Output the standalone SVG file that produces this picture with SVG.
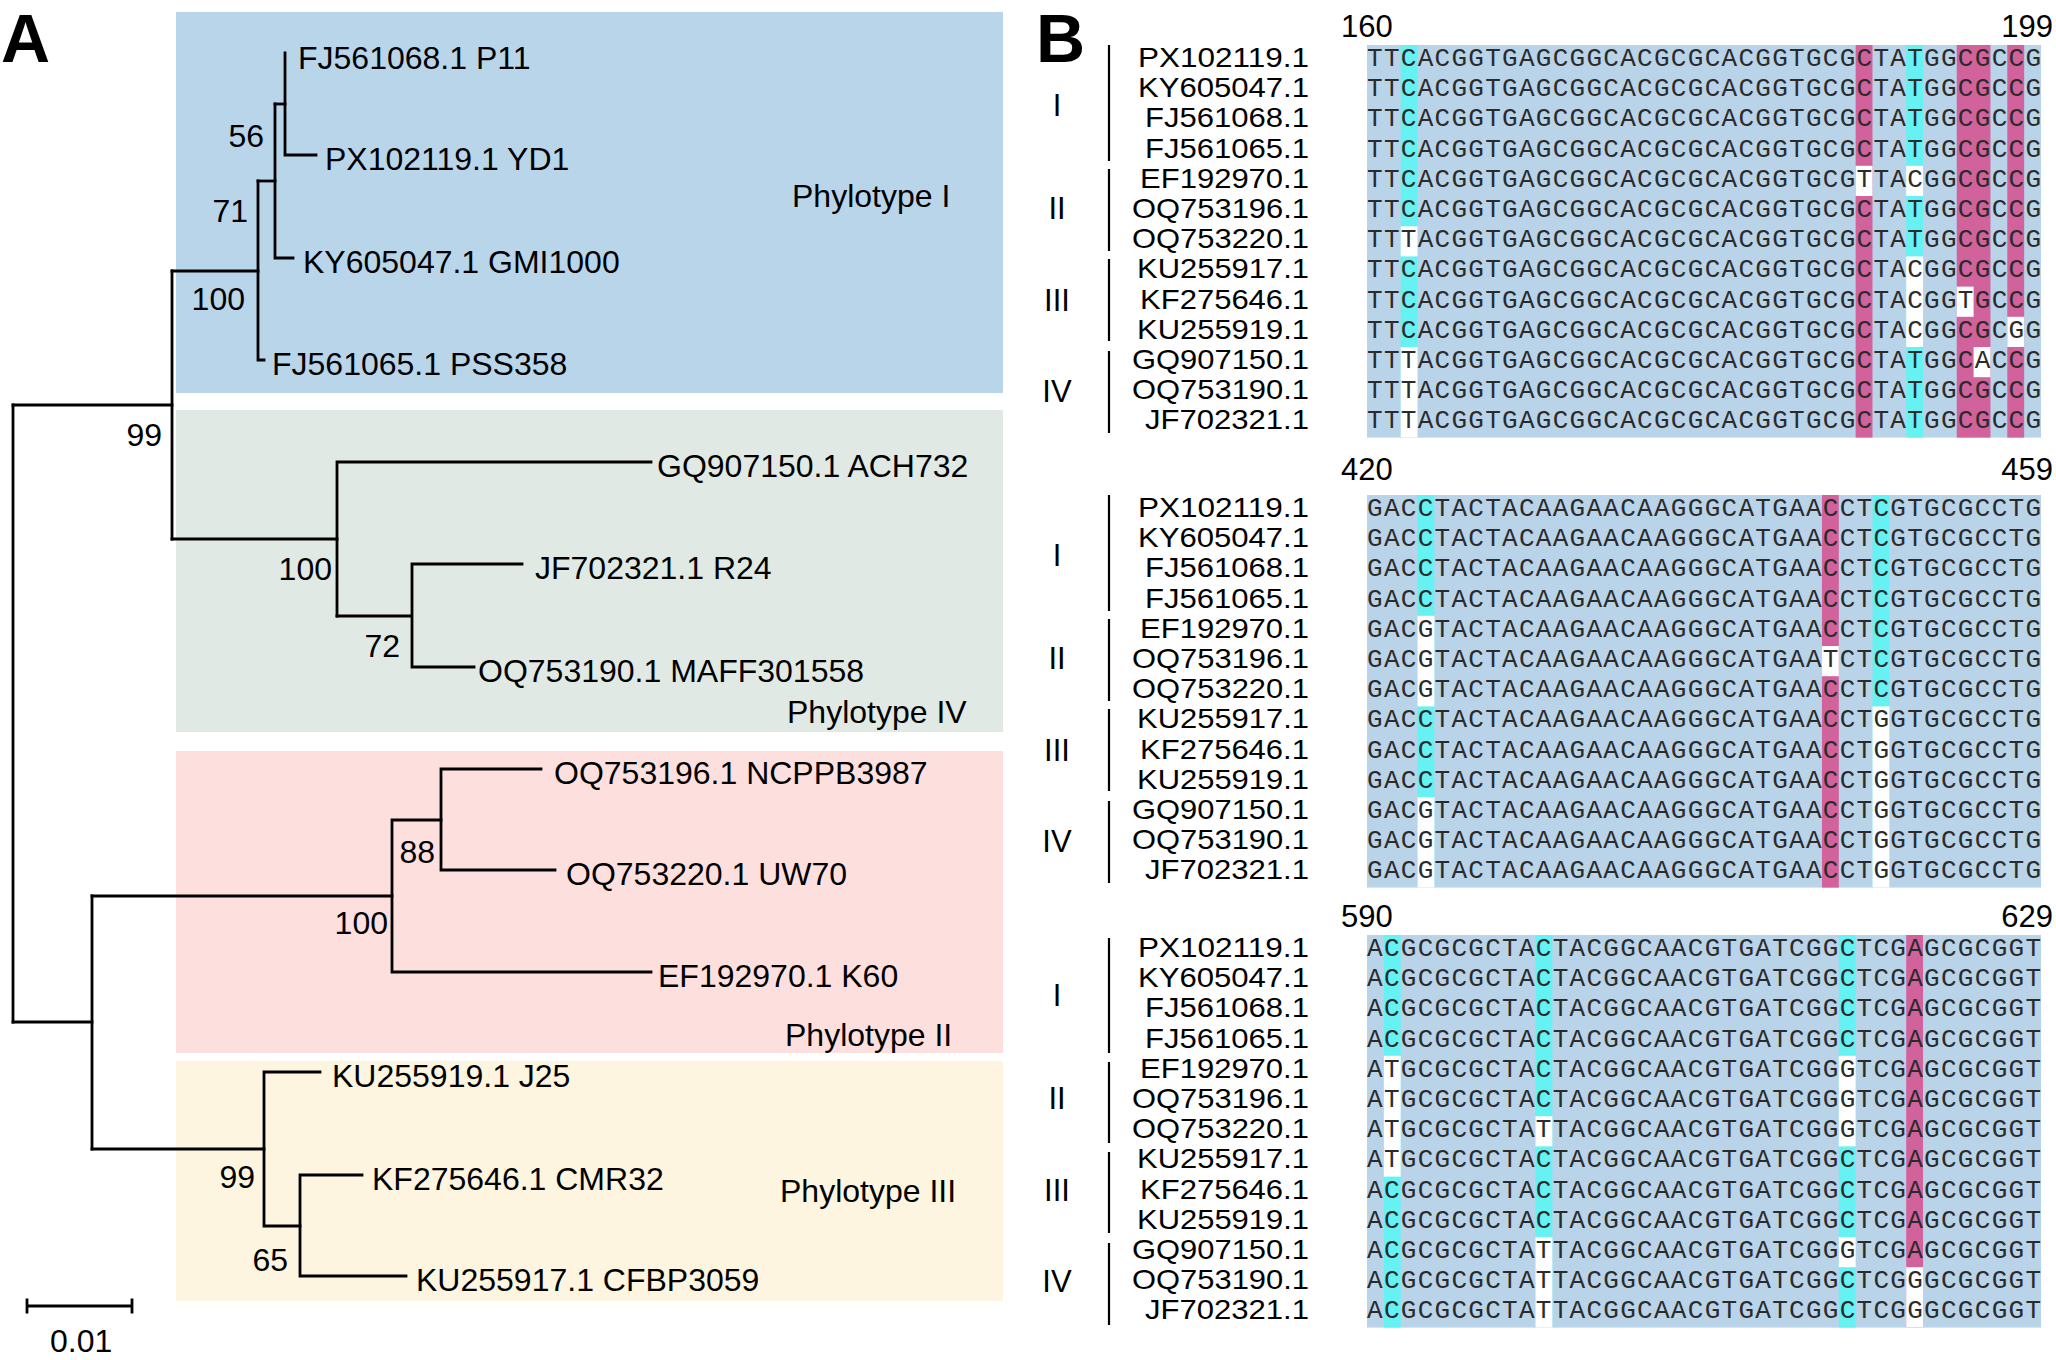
<svg xmlns="http://www.w3.org/2000/svg" width="2056" height="1360" viewBox="0 0 2056 1360">
<style>
text{font-family:"Liberation Sans",Arial,sans-serif;fill:#000}
.pl{font-size:68px;font-weight:bold}
.lf{font-size:32px}
.bs{font-size:32px;text-anchor:end}
.ph{font-size:32px}
.br{fill:none;stroke:#000;stroke-width:2.8;stroke-linecap:square}
.acc{font-size:28px;text-anchor:end}
.grp{font-size:31px;text-anchor:middle}
.num{font-size:31px}
.seq{font-family:"Liberation Mono","Courier New",monospace;font-size:26px;fill:#2b2b2b}
.bar{stroke:#000;stroke-width:2.2}
.bg{fill:#b9d4e9}
.cy{fill:#66f2f2}
.mg{fill:#d2629c}
.wh{fill:#fff}
</style>
<rect width="2056" height="1360" fill="#fff"/>

<!-- Panel A -->
<text class="pl" x="1" y="62">A</text>
<g id="clade-I"><rect x="176" y="12" width="827" height="381" fill="#b9d5ea"/><text class="ph" x="792" y="207">Phylotype I</text></g>
<g id="clade-IV"><rect x="176" y="410" width="827" height="322" fill="#e1e9e4"/><text class="ph" x="787" y="723">Phylotype IV</text></g>
<g id="clade-II"><rect x="176" y="751" width="827" height="302" fill="#fde0de"/><text class="ph" x="785" y="1046">Phylotype II</text></g>
<g id="clade-III"><rect x="176" y="1061" width="827" height="240" fill="#fdf5df"/><text class="ph" x="780" y="1202">Phylotype III</text></g>

<g id="connectors">
<path class="br" d="M285,53 V155 H316"/>
<path class="br" d="M275,104 H285"/>
<path class="br" d="M275,104 V258 H293"/>
<path class="br" d="M258,181 H275"/>
<path class="br" d="M258,181 V360 H264"/>
<path class="br" d="M172,271 H258"/>
<path class="br" d="M337,462 H651 M337,462 V616"/>
<path class="br" d="M337,616 H412 M412,564 V667 M412,564 H522 M412,667 H474"/>
<path class="br" d="M172,539 H337"/>
<path class="br" d="M172,271 V539"/>
<path class="br" d="M13,405 H172"/>
<path class="br" d="M441,769 V870 M441,769 H541 M441,870 H555"/>
<path class="br" d="M392,820 H441 M392,820 V972 H651"/>
<path class="br" d="M92,896 H392"/>
<path class="br" d="M300,1175 V1276 M300,1175 H362 M300,1276 H406"/>
<path class="br" d="M264,1226 H300 M264,1072 V1226 M264,1072 H320"/>
<path class="br" d="M92,1149 H264"/>
<path class="br" d="M92,896 V1149"/>
<path class="br" d="M13,1022 H92"/>
<path class="br" d="M13,405 V1022"/>
</g>

<g id="leaf-P11"><text class="lf" x="298" y="69">FJ561068.1 P11</text></g>
<g id="leaf-YD1"><text class="lf" x="325" y="170">PX102119.1 YD1</text></g>
<g id="leaf-GMI1000"><text class="lf" x="303" y="273">KY605047.1 GMI1000</text></g>
<g id="leaf-PSS358"><text class="lf" x="272" y="375">FJ561065.1 PSS358</text></g>
<g id="leaf-ACH732"><text class="lf" x="657" y="477">GQ907150.1 ACH732</text></g>
<g id="leaf-R24"><text class="lf" x="535" y="579">JF702321.1 R24</text></g>
<g id="leaf-MAFF301558"><text class="lf" x="478" y="682">OQ753190.1 MAFF301558</text></g>
<g id="leaf-NCPPB3987"><text class="lf" x="554" y="784">OQ753196.1 NCPPB3987</text></g>
<g id="leaf-UW70"><text class="lf" x="566" y="885">OQ753220.1 UW70</text></g>
<g id="leaf-K60"><text class="lf" x="658" y="987">EF192970.1 K60</text></g>
<g id="leaf-J25"><text class="lf" x="332" y="1087">KU255919.1 J25</text></g>
<g id="leaf-CMR32"><text class="lf" x="372" y="1190">KF275646.1 CMR32</text></g>
<g id="leaf-CFBP3059"><text class="lf" x="416" y="1291">KU255917.1 CFBP3059</text></g>

<g id="bootstrap">
<text class="bs" x="264" y="147">56</text>
<text class="bs" x="248" y="222">71</text>
<text class="bs" x="245" y="310">100</text>
<text class="bs" x="162" y="446">99</text>
<text class="bs" x="332" y="580">100</text>
<text class="bs" x="400" y="657">72</text>
<text class="bs" x="435" y="863">88</text>
<text class="bs" x="388" y="934">100</text>
<text class="bs" x="255" y="1188">99</text>
<text class="bs" x="288" y="1271">65</text>
</g>

<g id="scale-bar">
<path class="br" d="M27,1306 H132 M27,1300 V1312 M132,1300 V1312" stroke-width="2.5"/>
<text class="lf" x="50" y="1352" font-size="31">0.01</text>
</g>

<!-- Panel B -->
<text class="pl" x="1036" y="62">B</text>

<!-- Block 1 -->
<g id="block-160">
<text class="num" x="1341" y="37">160</text>
<text class="num" x="2053" y="37" text-anchor="end">199</text>
<rect class="bg" x="1367" y="45" width="674" height="392.6"/>
<rect class="cy" x="1400.7" y="45" width="16.85" height="392.6"/>
<rect class="mg" x="1855.65" y="45" width="16.85" height="392.6"/>
<rect class="cy" x="1906.2" y="45" width="16.85" height="392.6"/>
<rect class="mg" x="1956.75" y="45" width="33.7" height="392.6"/>
<rect class="mg" x="2007.3" y="45" width="16.85" height="392.6"/>
<rect class="wh" x="1400.7" y="226.2" width="16.85" height="30.2"/>
<rect class="wh" x="1400.7" y="347" width="16.85" height="90.6"/>
<rect class="wh" x="1855.65" y="165.8" width="16.85" height="30.2"/>
<rect class="wh" x="1906.2" y="165.8" width="16.85" height="30.2"/>
<rect class="wh" x="1906.2" y="256.4" width="16.85" height="90.6"/>
<rect class="wh" x="1956.75" y="286.6" width="16.85" height="30.2"/>
<rect class="wh" x="1973.6" y="347" width="16.85" height="30.2"/>
<rect class="wh" x="2007.3" y="316.8" width="16.85" height="30.2"/>
<g class="seqs">
<text class="seq" x="1367" y="66" textLength="674" lengthAdjust="spacing">TTCACGGTGAGCGGCACGCGCACGGTGCGCTATGGCGCCG</text>
<text class="seq" x="1367" y="96.2" textLength="674" lengthAdjust="spacing">TTCACGGTGAGCGGCACGCGCACGGTGCGCTATGGCGCCG</text>
<text class="seq" x="1367" y="126.4" textLength="674" lengthAdjust="spacing">TTCACGGTGAGCGGCACGCGCACGGTGCGCTATGGCGCCG</text>
<text class="seq" x="1367" y="156.6" textLength="674" lengthAdjust="spacing">TTCACGGTGAGCGGCACGCGCACGGTGCGCTATGGCGCCG</text>
<text class="seq" x="1367" y="186.8" textLength="674" lengthAdjust="spacing">TTCACGGTGAGCGGCACGCGCACGGTGCGTTACGGCGCCG</text>
<text class="seq" x="1367" y="217" textLength="674" lengthAdjust="spacing">TTCACGGTGAGCGGCACGCGCACGGTGCGCTATGGCGCCG</text>
<text class="seq" x="1367" y="247.2" textLength="674" lengthAdjust="spacing">TTTACGGTGAGCGGCACGCGCACGGTGCGCTATGGCGCCG</text>
<text class="seq" x="1367" y="277.4" textLength="674" lengthAdjust="spacing">TTCACGGTGAGCGGCACGCGCACGGTGCGCTACGGCGCCG</text>
<text class="seq" x="1367" y="307.6" textLength="674" lengthAdjust="spacing">TTCACGGTGAGCGGCACGCGCACGGTGCGCTACGGTGCCG</text>
<text class="seq" x="1367" y="337.8" textLength="674" lengthAdjust="spacing">TTCACGGTGAGCGGCACGCGCACGGTGCGCTACGGCGCGG</text>
<text class="seq" x="1367" y="368" textLength="674" lengthAdjust="spacing">TTTACGGTGAGCGGCACGCGCACGGTGCGCTATGGCACCG</text>
<text class="seq" x="1367" y="398.2" textLength="674" lengthAdjust="spacing">TTTACGGTGAGCGGCACGCGCACGGTGCGCTATGGCGCCG</text>
<text class="seq" x="1367" y="428.4" textLength="674" lengthAdjust="spacing">TTTACGGTGAGCGGCACGCGCACGGTGCGCTATGGCGCCG</text>
</g>
<g class="labels">
<text class="acc" x="1309" y="67" textLength="171" lengthAdjust="spacingAndGlyphs">PX102119.1</text>
<text class="acc" x="1309" y="97.2" textLength="171" lengthAdjust="spacingAndGlyphs">KY605047.1</text>
<text class="acc" x="1309" y="127.4" textLength="164" lengthAdjust="spacingAndGlyphs">FJ561068.1</text>
<text class="acc" x="1309" y="157.6" textLength="164" lengthAdjust="spacingAndGlyphs">FJ561065.1</text>
<text class="acc" x="1309" y="187.8" textLength="169" lengthAdjust="spacingAndGlyphs">EF192970.1</text>
<text class="acc" x="1309" y="218" textLength="177" lengthAdjust="spacingAndGlyphs">OQ753196.1</text>
<text class="acc" x="1309" y="248.2" textLength="177" lengthAdjust="spacingAndGlyphs">OQ753220.1</text>
<text class="acc" x="1309" y="278.4" textLength="172" lengthAdjust="spacingAndGlyphs">KU255917.1</text>
<text class="acc" x="1309" y="308.6" textLength="169" lengthAdjust="spacingAndGlyphs">KF275646.1</text>
<text class="acc" x="1309" y="338.8" textLength="172" lengthAdjust="spacingAndGlyphs">KU255919.1</text>
<text class="acc" x="1309" y="369" textLength="177" lengthAdjust="spacingAndGlyphs">GQ907150.1</text>
<text class="acc" x="1309" y="399.2" textLength="177" lengthAdjust="spacingAndGlyphs">OQ753190.1</text>
<text class="acc" x="1309" y="429.4" textLength="164" lengthAdjust="spacingAndGlyphs">JF702321.1</text>
</g>
<g class="groups">
<line class="bar" x1="1109" y1="45" x2="1109" y2="161"/>
<line class="bar" x1="1109" y1="169" x2="1109" y2="251"/>
<line class="bar" x1="1109" y1="259" x2="1109" y2="341"/>
<line class="bar" x1="1109" y1="351" x2="1109" y2="433"/>
<text class="grp" x="1057" y="116">I</text>
<text class="grp" x="1057" y="219">II</text>
<text class="grp" x="1057" y="311">III</text>
<text class="grp" x="1057" y="402">IV</text>
</g>
</g>

<!-- Block 2 -->
<g id="block-420">
<text class="num" x="1341" y="480">420</text>
<text class="num" x="2053" y="480" text-anchor="end">459</text>
<rect class="bg" x="1367" y="495" width="674" height="392.6"/>
<rect class="cy" x="1417.55" y="495" width="16.85" height="392.6"/>
<rect class="mg" x="1821.95" y="495" width="16.85" height="392.6"/>
<rect class="cy" x="1872.5" y="495" width="16.85" height="392.6"/>
<rect class="wh" x="1417.55" y="615.8" width="16.85" height="90.6"/>
<rect class="wh" x="1417.55" y="797" width="16.85" height="90.6"/>
<rect class="wh" x="1821.95" y="646" width="16.85" height="30.2"/>
<rect class="wh" x="1872.5" y="706.4" width="16.85" height="181.2"/>
<g class="seqs">
<text class="seq" x="1367" y="516" textLength="674" lengthAdjust="spacing">GACCTACTACAAGAACAAGGGCATGAACCTCGTGCGCCTG</text>
<text class="seq" x="1367" y="546.2" textLength="674" lengthAdjust="spacing">GACCTACTACAAGAACAAGGGCATGAACCTCGTGCGCCTG</text>
<text class="seq" x="1367" y="576.4" textLength="674" lengthAdjust="spacing">GACCTACTACAAGAACAAGGGCATGAACCTCGTGCGCCTG</text>
<text class="seq" x="1367" y="606.6" textLength="674" lengthAdjust="spacing">GACCTACTACAAGAACAAGGGCATGAACCTCGTGCGCCTG</text>
<text class="seq" x="1367" y="636.8" textLength="674" lengthAdjust="spacing">GACGTACTACAAGAACAAGGGCATGAACCTCGTGCGCCTG</text>
<text class="seq" x="1367" y="667" textLength="674" lengthAdjust="spacing">GACGTACTACAAGAACAAGGGCATGAATCTCGTGCGCCTG</text>
<text class="seq" x="1367" y="697.2" textLength="674" lengthAdjust="spacing">GACGTACTACAAGAACAAGGGCATGAACCTCGTGCGCCTG</text>
<text class="seq" x="1367" y="727.4" textLength="674" lengthAdjust="spacing">GACCTACTACAAGAACAAGGGCATGAACCTGGTGCGCCTG</text>
<text class="seq" x="1367" y="757.6" textLength="674" lengthAdjust="spacing">GACCTACTACAAGAACAAGGGCATGAACCTGGTGCGCCTG</text>
<text class="seq" x="1367" y="787.8" textLength="674" lengthAdjust="spacing">GACCTACTACAAGAACAAGGGCATGAACCTGGTGCGCCTG</text>
<text class="seq" x="1367" y="818" textLength="674" lengthAdjust="spacing">GACGTACTACAAGAACAAGGGCATGAACCTGGTGCGCCTG</text>
<text class="seq" x="1367" y="848.2" textLength="674" lengthAdjust="spacing">GACGTACTACAAGAACAAGGGCATGAACCTGGTGCGCCTG</text>
<text class="seq" x="1367" y="878.4" textLength="674" lengthAdjust="spacing">GACGTACTACAAGAACAAGGGCATGAACCTGGTGCGCCTG</text>
</g>
<g class="labels">
<text class="acc" x="1309" y="517" textLength="171" lengthAdjust="spacingAndGlyphs">PX102119.1</text>
<text class="acc" x="1309" y="547.2" textLength="171" lengthAdjust="spacingAndGlyphs">KY605047.1</text>
<text class="acc" x="1309" y="577.4" textLength="164" lengthAdjust="spacingAndGlyphs">FJ561068.1</text>
<text class="acc" x="1309" y="607.6" textLength="164" lengthAdjust="spacingAndGlyphs">FJ561065.1</text>
<text class="acc" x="1309" y="637.8" textLength="169" lengthAdjust="spacingAndGlyphs">EF192970.1</text>
<text class="acc" x="1309" y="668" textLength="177" lengthAdjust="spacingAndGlyphs">OQ753196.1</text>
<text class="acc" x="1309" y="698.2" textLength="177" lengthAdjust="spacingAndGlyphs">OQ753220.1</text>
<text class="acc" x="1309" y="728.4" textLength="172" lengthAdjust="spacingAndGlyphs">KU255917.1</text>
<text class="acc" x="1309" y="758.6" textLength="169" lengthAdjust="spacingAndGlyphs">KF275646.1</text>
<text class="acc" x="1309" y="788.8" textLength="172" lengthAdjust="spacingAndGlyphs">KU255919.1</text>
<text class="acc" x="1309" y="819" textLength="177" lengthAdjust="spacingAndGlyphs">GQ907150.1</text>
<text class="acc" x="1309" y="849.2" textLength="177" lengthAdjust="spacingAndGlyphs">OQ753190.1</text>
<text class="acc" x="1309" y="879.4" textLength="164" lengthAdjust="spacingAndGlyphs">JF702321.1</text>
</g>
<g class="groups">
<line class="bar" x1="1109" y1="495" x2="1109" y2="611"/>
<line class="bar" x1="1109" y1="619" x2="1109" y2="701"/>
<line class="bar" x1="1109" y1="709" x2="1109" y2="791"/>
<line class="bar" x1="1109" y1="801" x2="1109" y2="883"/>
<text class="grp" x="1057" y="566">I</text>
<text class="grp" x="1057" y="669">II</text>
<text class="grp" x="1057" y="761">III</text>
<text class="grp" x="1057" y="852">IV</text>
</g>
</g>

<!-- Block 3 -->
<g id="block-590">
<text class="num" x="1341" y="927">590</text>
<text class="num" x="2053" y="927" text-anchor="end">629</text>
<rect class="bg" x="1367" y="935" width="674" height="392.6"/>
<rect class="cy" x="1383.85" y="935" width="16.85" height="392.6"/>
<rect class="cy" x="1535.5" y="935" width="16.85" height="392.6"/>
<rect class="cy" x="1838.8" y="935" width="16.85" height="392.6"/>
<rect class="mg" x="1906.2" y="935" width="16.85" height="392.6"/>
<rect class="wh" x="1383.85" y="1055.8" width="16.85" height="120.8"/>
<rect class="wh" x="1535.5" y="1116.2" width="16.85" height="30.2"/>
<rect class="wh" x="1535.5" y="1237" width="16.85" height="90.6"/>
<rect class="wh" x="1838.8" y="1055.8" width="16.85" height="90.6"/>
<rect class="wh" x="1838.8" y="1237" width="16.85" height="30.2"/>
<rect class="wh" x="1906.2" y="1267.2" width="16.85" height="60.4"/>
<g class="seqs">
<text class="seq" x="1367" y="956" textLength="674" lengthAdjust="spacing">ACGCGCGCTACTACGGCAACGTGATCGGCTCGAGCGCGGT</text>
<text class="seq" x="1367" y="986.2" textLength="674" lengthAdjust="spacing">ACGCGCGCTACTACGGCAACGTGATCGGCTCGAGCGCGGT</text>
<text class="seq" x="1367" y="1016.4" textLength="674" lengthAdjust="spacing">ACGCGCGCTACTACGGCAACGTGATCGGCTCGAGCGCGGT</text>
<text class="seq" x="1367" y="1046.6" textLength="674" lengthAdjust="spacing">ACGCGCGCTACTACGGCAACGTGATCGGCTCGAGCGCGGT</text>
<text class="seq" x="1367" y="1076.8" textLength="674" lengthAdjust="spacing">ATGCGCGCTACTACGGCAACGTGATCGGGTCGAGCGCGGT</text>
<text class="seq" x="1367" y="1107" textLength="674" lengthAdjust="spacing">ATGCGCGCTACTACGGCAACGTGATCGGGTCGAGCGCGGT</text>
<text class="seq" x="1367" y="1137.2" textLength="674" lengthAdjust="spacing">ATGCGCGCTATTACGGCAACGTGATCGGGTCGAGCGCGGT</text>
<text class="seq" x="1367" y="1167.4" textLength="674" lengthAdjust="spacing">ATGCGCGCTACTACGGCAACGTGATCGGCTCGAGCGCGGT</text>
<text class="seq" x="1367" y="1197.6" textLength="674" lengthAdjust="spacing">ACGCGCGCTACTACGGCAACGTGATCGGCTCGAGCGCGGT</text>
<text class="seq" x="1367" y="1227.8" textLength="674" lengthAdjust="spacing">ACGCGCGCTACTACGGCAACGTGATCGGCTCGAGCGCGGT</text>
<text class="seq" x="1367" y="1258" textLength="674" lengthAdjust="spacing">ACGCGCGCTATTACGGCAACGTGATCGGGTCGAGCGCGGT</text>
<text class="seq" x="1367" y="1288.2" textLength="674" lengthAdjust="spacing">ACGCGCGCTATTACGGCAACGTGATCGGCTCGGGCGCGGT</text>
<text class="seq" x="1367" y="1318.4" textLength="674" lengthAdjust="spacing">ACGCGCGCTATTACGGCAACGTGATCGGCTCGGGCGCGGT</text>
</g>
<g class="labels">
<text class="acc" x="1309" y="957" textLength="171" lengthAdjust="spacingAndGlyphs">PX102119.1</text>
<text class="acc" x="1309" y="987.2" textLength="171" lengthAdjust="spacingAndGlyphs">KY605047.1</text>
<text class="acc" x="1309" y="1017.4" textLength="164" lengthAdjust="spacingAndGlyphs">FJ561068.1</text>
<text class="acc" x="1309" y="1047.6" textLength="164" lengthAdjust="spacingAndGlyphs">FJ561065.1</text>
<text class="acc" x="1309" y="1077.8" textLength="169" lengthAdjust="spacingAndGlyphs">EF192970.1</text>
<text class="acc" x="1309" y="1108" textLength="177" lengthAdjust="spacingAndGlyphs">OQ753196.1</text>
<text class="acc" x="1309" y="1138.2" textLength="177" lengthAdjust="spacingAndGlyphs">OQ753220.1</text>
<text class="acc" x="1309" y="1168.4" textLength="172" lengthAdjust="spacingAndGlyphs">KU255917.1</text>
<text class="acc" x="1309" y="1198.6" textLength="169" lengthAdjust="spacingAndGlyphs">KF275646.1</text>
<text class="acc" x="1309" y="1228.8" textLength="172" lengthAdjust="spacingAndGlyphs">KU255919.1</text>
<text class="acc" x="1309" y="1259" textLength="177" lengthAdjust="spacingAndGlyphs">GQ907150.1</text>
<text class="acc" x="1309" y="1289.2" textLength="177" lengthAdjust="spacingAndGlyphs">OQ753190.1</text>
<text class="acc" x="1309" y="1319.4" textLength="164" lengthAdjust="spacingAndGlyphs">JF702321.1</text>
</g>
<g class="groups">
<line class="bar" x1="1109" y1="938" x2="1109" y2="1053"/>
<line class="bar" x1="1109" y1="1062" x2="1109" y2="1143"/>
<line class="bar" x1="1109" y1="1152" x2="1109" y2="1233"/>
<line class="bar" x1="1109" y1="1243" x2="1109" y2="1325"/>
<text class="grp" x="1057" y="1006">I</text>
<text class="grp" x="1057" y="1109">II</text>
<text class="grp" x="1057" y="1201">III</text>
<text class="grp" x="1057" y="1292">IV</text>
</g>
</g>
</svg>
